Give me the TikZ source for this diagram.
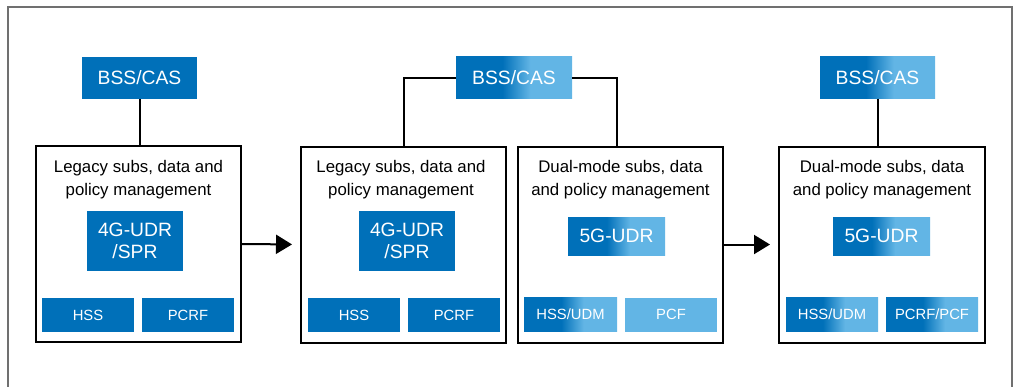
\documentclass[tikz,border=0pt]{standalone}
\usepackage{fontspec}
\setmainfont{Liberation Sans}
\usetikzlibrary{arrows.meta}
\definecolor{dblue}{RGB}{0,112,185}
\definecolor{lblue}{RGB}{98,181,229}
\definecolor{framegray}{RGB}{112,112,112}
\pgfdeclarehorizontalshading{bgrad}{100bp}{color(0bp)=(dblue); color(45bp)=(dblue); color(57bp)=(lblue); color(100bp)=(lblue)}
\begin{document}
\begin{tikzpicture}[x=1pt,y=-1pt,
  panel/.style={draw=black, line width=2pt, fill=white, minimum width=205pt, minimum height=196pt, inner sep=0pt},
  title/.style={font=\fontsize{16.8}{23}\selectfont, align=center, text=black},
  solidbox/.style={fill=dblue, text=white, inner sep=0pt},
  gradbox/.style={shading=bgrad, text=white, inner sep=0pt},
  lightbox/.style={fill=lblue, text=white, inner sep=0pt},
  bss/.style={minimum width=115pt, minimum height=42pt, font=\fontsize{19.3}{22}\selectfont},
  udr/.style={minimum width=96pt, font=\fontsize{19.3}{22.5}\selectfont, align=center},
  small/.style={minimum width=92pt, minimum height=34pt, font=\fontsize{14.8}{17}\selectfont},
  conn/.style={draw=black, line width=2pt},
  flow/.style={draw=black, line width=2pt, -{Triangle[length=16pt,width=19pt]}, shorten >=8pt}
]
\useasboundingbox (0,0) rectangle (1017,386);
% outer frame (open at bottom)
\draw[framegray, line width=2pt] (8,390) -- (8,7) -- (1012,7) -- (1012,390);

% panels
\node[panel] (p1) at (138.5,244) {};
\node[panel] (p2a) at (403.5,244.5) {};
\node[panel] (p2b) at (620.5,244.5) {};
\node[panel, minimum width=206pt] (p3) at (882,244.5) {};

% titles
\node[title] (t1) at (138.5,179.5) {Legacy subs, data and\\policy management};
\node[title] (t2a) at (401,179.5) {Legacy subs, data and\\policy management};
\node[title] (t2b) at (620.5,179.5) {Dual-mode subs, data\\and policy management};
\node[title] (t3) at (882,179.5) {Dual-mode subs, data\\and policy management};

% BSS/CAS
\node[solidbox, bss] (bss1) at (139.5,78) {BSS/CAS};
\node[gradbox, bss, minimum width=116pt] (bss2) at (514,77.5) {BSS/CAS};
\node[gradbox, bss] (bss3) at (877.5,77.5) {BSS/CAS};

% UDR boxes
\node[solidbox, udr, minimum height=60pt] (udr1) at (135,241) {4G-UDR\\/SPR};
\node[solidbox, udr, minimum height=60pt] (udr2) at (407,241) {4G-UDR\\/SPR};
\node[gradbox, udr, minimum width=97pt, minimum height=38pt] (udr3) at (616.5,236) {5G-UDR};
\node[gradbox, udr, minimum width=97pt, minimum height=38pt] (udr4) at (881.5,236) {5G-UDR};

% small boxes
\node[solidbox, small] (hss1) at (88,315) {HSS};
\node[solidbox, small] (pcrf1) at (188,315) {PCRF};
\node[solidbox, small] (hss2) at (354,315) {HSS};
\node[solidbox, small] (pcrf2) at (454,315) {PCRF};
\node[gradbox, small, minimum width=93pt] (hssudm2) at (570.5,314.5) {HSS/UDM};
\node[lightbox, small] (pcf2) at (671,314.5) {PCF};
\node[gradbox, small] (hssudm3) at (832,314.5) {HSS/UDM};
\node[gradbox, small] (pcrfpcf3) at (932,314.5) {PCRF/PCF};

% connectors
\draw[conn] (bss1.south) -- (bss1.south |- p1.north);
\draw[conn] (bss2.west) -| (p2a.north);
\draw[conn] (bss2.east) -| (hssudm2.east |- p2b.north);
\draw[conn] (bss3.south) -- (bss3.south |- p3.north);

% flow arrows
\draw[flow] (p1.east) -- (p2a.west);
\draw[flow] (p2b.east) -- (p3.west);
\end{tikzpicture}
\end{document}
